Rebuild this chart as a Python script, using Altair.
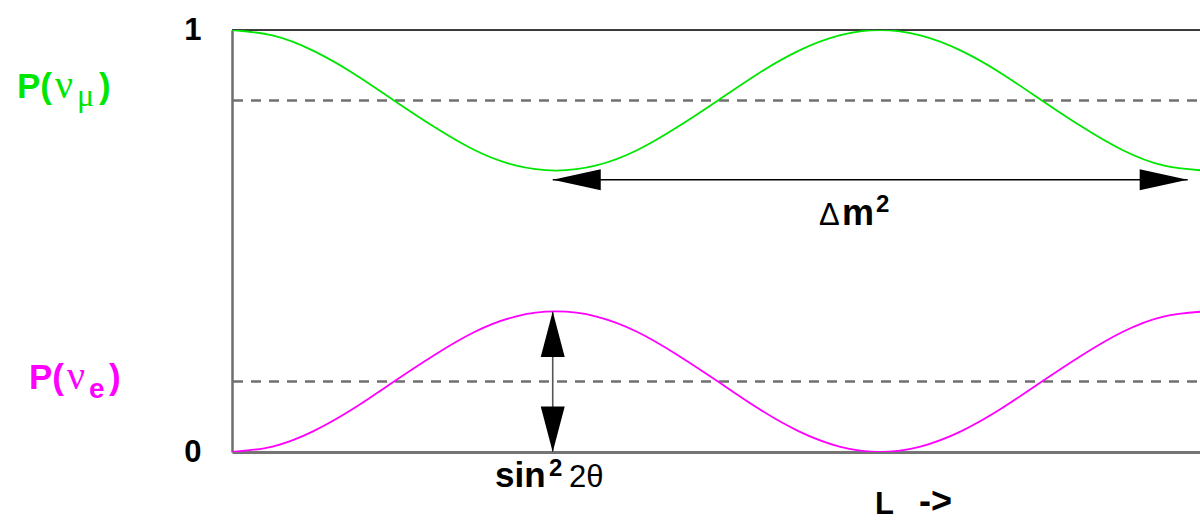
import altair as alt
import pandas as pd

# Oscillation distance in half-periods (0 = source, 1 = first nu_mu minimum)
L = [0.0, 0.125, 0.25, 0.375, 0.5, 0.625, 0.75, 0.875, 1.0,
     1.125, 1.25, 1.375, 1.5, 1.625, 1.75, 1.875, 2.0,
     2.125, 2.25, 2.375, 2.5, 2.625, 2.75, 2.875, 3.0]
# Appearance probability P(nu_e)
p_e = [0.000, 0.013, 0.049, 0.103, 0.167, 0.230, 0.285, 0.321, 0.333,
       0.321, 0.285, 0.230, 0.167, 0.103, 0.049, 0.013, 0.000,
       0.013, 0.049, 0.103, 0.167, 0.230, 0.285, 0.321, 0.333]
# Survival probability P(nu_mu)
p_mu = [1.000, 0.987, 0.951, 0.897, 0.833, 0.770, 0.715, 0.679, 0.667,
        0.679, 0.715, 0.770, 0.833, 0.897, 0.951, 0.987, 1.000,
        0.987, 0.951, 0.897, 0.833, 0.770, 0.715, 0.679, 0.667]
# Average levels of the two probabilities
mean_levels = [0.833, 0.167]
y_ticks = [0, 1]

# Arrow end points: amplitude arrow (vertical) and wavelength arrow (horizontal)
amp_L = 0.99
amp_range = [0.0, 0.333]
wave_P = 0.645
wave_range = [0.99, 2.95]

GREEN = "#00e600"
MAGENTA = "#ff00ff"
FONT = "Liberation Sans"
SERIF = "Liberation Serif"
L_MAX = 2.988

curves = pd.DataFrame({"L": L, "P(νμ)": p_mu, "P(νe)": p_e})

xs = alt.Scale(domain=[0, L_MAX], nice=False, zero=False)
ys = alt.Scale(domain=[0, 1], nice=False)

base_x = alt.X("L:Q", scale=xs, axis=alt.Axis(
    title=None, labels=False, ticks=False, grid=False,
    domainColor="#757575", domainWidth=3))

lines = alt.Chart(curves).transform_fold(
    ["P(νμ)", "P(νe)"], as_=["series", "P"]
).mark_line(interpolate="natural", strokeWidth=1.8, clip=True).encode(
    x=base_x,
    y=alt.Y("P:Q", scale=ys, axis=alt.Axis(
        values=y_ticks, format="d", title=None, ticks=False, grid=False,
        domainColor="#6e6e6e", domainWidth=2.5,
        labelFont=FONT, labelFontSize=31, labelFontWeight="bold", labelColor="black",
        labelPadding=31, labelBaseline="middle")),
    color=alt.Color("series:N", scale=alt.Scale(domain=["P(νμ)", "P(νe)"], range=[GREEN, MAGENTA]),
                    legend=None),
)

top_rule = alt.Chart(pd.DataFrame({"P": [1.0]})).mark_rule(color="black", strokeWidth=1.6).encode(
    y=alt.Y("P:Q", scale=ys))

mean_rules = alt.Chart(pd.DataFrame({"P": mean_levels})).mark_rule(
    color="#707070", strokeWidth=2.4, strokeDash=[10, 8], strokeDashOffset=-3
).encode(y=alt.Y("P:Q", scale=ys))

# Arrow shafts
amp_shaft = alt.Chart(pd.DataFrame({"L": [amp_L], "a": [amp_range[0]], "b": [amp_range[1]]})).mark_rule(
    color="#555555", strokeWidth=1.6).encode(
    x=alt.X("L:Q", scale=xs), y=alt.Y("a:Q", scale=ys), y2="b:Q")
wave_shaft = alt.Chart(pd.DataFrame({"P": [wave_P], "a": [wave_range[0]], "b": [wave_range[1]]})).mark_rule(
    color="black", strokeWidth=1.6).encode(
    y=alt.Y("P:Q", scale=ys), x=alt.X("a:Q", scale=xs), x2="b:Q")

# Arrow heads: custom paths with the tip at the anchor point
HEAD_SIZE = 2304


def head(Lv, Pv, path):
    return alt.Chart(pd.DataFrame({"L": [Lv], "P": [Pv]})).mark_point(
        shape=path, size=HEAD_SIZE, filled=True, color="black", opacity=1, strokeWidth=0
    ).encode(x=alt.X("L:Q", scale=xs), y=alt.Y("P:Q", scale=ys))


heads = [
    head(amp_L, amp_range[1], "M0,0 L-0.5,1.9 L0.5,1.9 Z"),
    head(amp_L, amp_range[0], "M0,0 L-0.5,-1.9 L0.5,-1.9 Z"),
    head(wave_range[0], wave_P, "M0,0 L2,-0.44 L2,0.44 Z"),
    head(wave_range[1], wave_P, "M0,0 L-2,-0.44 L-2,0.44 Z"),
]


# Text annotations placed in pixel offsets from the plot's top-left corner
def label(text, x, y, size, color="black", weight="bold", align="left", baseline="alphabetic", font=FONT):
    return alt.Chart(pd.DataFrame({"t": [text]})).mark_text(
        text=text, font=font, fontSize=size, fontWeight=weight, color=color,
        align=align, baseline=baseline
    ).encode(x=alt.value(x - 232), y=alt.value(y - 30))


labels = [
    label("P(", 17, 98, 35, GREEN),
    label("ν", 55, 98, 40, GREEN, weight="normal", font=SERIF),
    label("μ", 77, 106, 32, GREEN, weight="normal", font=SERIF),
    label(")", 99, 98, 35, GREEN),
    label("P(", 29, 389, 35, MAGENTA),
    label("ν", 67, 389, 40, MAGENTA, weight="normal", font=SERIF),
    label("e", 89, 398, 28, MAGENTA),
    label(")", 109, 389, 35, MAGENTA),
    label("Δ", 819, 225, 31, weight="normal"),
    label("m", 842, 225, 36),
    label("2", 876, 212, 24),
    label("sin", 495, 487, 35),
    label("2", 549, 476, 24),
    label("2θ", 569, 487, 31, weight="normal"),
    label("L", 875, 514, 31),
    label("->", 919, 513, 36),
]

chart = alt.layer(
    mean_rules, top_rule, lines, amp_shaft, wave_shaft, *heads, *labels
).properties(
    width=968, height=422,
    autosize=alt.AutoSizeParams(type="none"),
    padding={"left": 232, "top": 30, "right": 0, "bottom": 70},
).configure_view(stroke=None).configure(background="white")

chart.save("out.html", embed_options={"renderer": "svg", "actions": False})
